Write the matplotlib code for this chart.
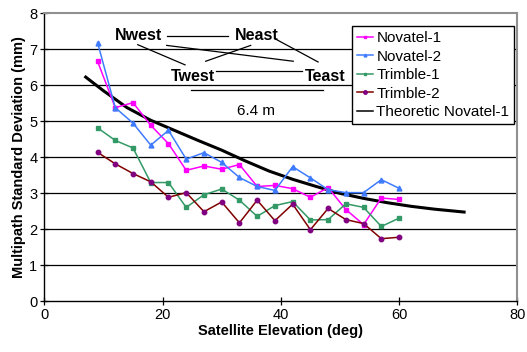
import matplotlib
matplotlib.use('Agg')
import matplotlib.pyplot as plt
from matplotlib.lines import Line2D

plt.rcParams['font.family'] = ['Liberation Sans', 'DejaVu Sans']
plt.rcParams['font.size'] = 10

# elevation bins (deg)
elev = [9, 12, 15, 18, 21, 24, 27, 30, 33, 36, 39, 42, 45, 48, 51, 54, 57, 60]

novatel_1 = [6.67, 5.38, 5.52, 4.89, 4.38, 3.64, 3.76, 3.67, 3.80, 3.19, 3.22, 3.13, 2.89, 3.16, 2.55, 2.13, 2.87, 2.83]
novatel_2 = [7.19, 5.38, 4.95, 4.34, 4.75, 3.95, 4.13, 3.86, 3.44, 3.19, 3.08, 3.74, 3.43, 3.10, 3.02, 3.02, 3.38, 3.14]
trimble_1 = [4.82, 4.47, 4.26, 3.30, 3.30, 2.61, 2.96, 3.12, 2.81, 2.36, 2.66, 2.77, 2.26, 2.27, 2.71, 2.61, 2.08, 2.31]
trimble_2 = [4.14, 3.82, 3.55, 3.32, 2.89, 3.02, 2.49, 2.76, 2.18, 2.81, 2.24, 2.70, 1.99, 2.58, 2.27, 2.16, 1.74, 1.78]

# theoretic curve
theo_elev = [7, 10, 14, 18, 22, 26, 30, 34, 38, 42, 46, 50, 54, 58, 62, 66, 71]
theo_std = [6.23, 5.85, 5.38, 5.03, 4.75, 4.47, 4.20, 3.90, 3.62, 3.39, 3.19, 3.00, 2.86, 2.74, 2.64, 2.56, 2.48]

fig = plt.figure(figsize=(5.27, 3.52), dpi=100)
ax = fig.add_axes([0.0841, 0.144, 0.8975, 0.818])

for v in range(1, 8):
    ax.axhline(v, color='black', lw=0.9, zorder=1)

ax.plot(theo_elev, theo_std, color='black', lw=2.2, zorder=2)
ax.plot(elev, novatel_1, color='#ff00ff', marker='s', ms=3, lw=1.1, zorder=3)
ax.plot(elev, novatel_2, color='#3f7bff', marker='^', ms=3.5, lw=1.1, zorder=3)
ax.plot(elev, trimble_1, color='#339966', marker='s', ms=2.2, lw=1.1, zorder=3)
ax.plot(elev, trimble_2, color='#800000', marker='o', ms=3.2, mfc='#800080', mec='#800080', lw=1.1, zorder=3)

ax.set_xlim(0, 80)
ax.set_ylim(0, 8)
ax.set_xticks([0, 20, 40, 60, 80])
ax.set_yticks(range(0, 9))
ax.tick_params(direction='inout', length=6, width=0.9, pad=2, labelsize=10.5)
ax.set_xlabel('Satellite Elevation (deg)', fontweight='bold', fontsize=10.5, labelpad=1)
ax.set_ylabel('Multipath Standard Deviation (mm)', fontweight='bold', fontsize=10.5, labelpad=2)

for s in ['left', 'bottom']:
    ax.spines[s].set_color('black')
    ax.spines[s].set_linewidth(1.0)
for s in ['top', 'right']:
    ax.spines[s].set_color('#909090')
    ax.spines[s].set_linewidth(1.5)

# antenna layout sketch
kw = dict(color='black', lw=0.9, zorder=4)
ax.plot([20.7, 31.1], [7.37, 7.37], **kw)
ax.plot([15.8, 23.8], [7.13, 6.57], **kw)
ax.plot([20.7, 42.1], [7.11, 6.67], **kw)
ax.plot([27.3, 34.9], [6.67, 7.11], **kw)
ax.plot([39.3, 46.3], [7.27, 6.65], **kw)
ax.plot([29.0, 43.5], [6.39, 6.39], **kw)
ax.plot([24.8, 47.1], [5.88, 5.88], **kw)
tkw = dict(fontweight='bold', fontsize=11.5, va='center', ha='left', zorder=5)
ax.text(11.96, 7.39, 'Nwest', **tkw)
ax.text(32.26, 7.39, 'Neast', **tkw)
ax.text(21.43, 6.25, 'Twest', **tkw)
ax.text(44.10, 6.25, 'Teast', **tkw)
ax.text(35.8, 5.29, '6.4 m', ha='center', va='center', fontsize=11, zorder=5)

handles = [
    Line2D([], [], color='#ff00ff', marker='s', ms=2, lw=1.1),
    Line2D([], [], color='#3f7bff', marker='^', ms=2, lw=1.1),
    Line2D([], [], color='#339966', marker='s', ms=2, lw=1.1),
    Line2D([], [], color='#800000', marker='o', ms=2.5, mfc='#800080', mec='#800080', lw=1.1),
    Line2D([], [], color='black', lw=1.1),
]
labels = ['Novatel-1', 'Novatel-2', 'Trimble-1', 'Trimble-2', 'Theoretic Novatel-1']
leg = fig.legend(handles, labels, loc='upper left', bbox_to_anchor=(0.668, 0.925),
                 frameon=True, fancybox=False, edgecolor='black', framealpha=1,
                 handlelength=1.05, handletextpad=0.25, borderpad=0.3, labelspacing=0.3,
                 borderaxespad=0, fontsize=11)
leg.get_frame().set_linewidth(1.0)

fig.savefig('out.png', dpi=100)
